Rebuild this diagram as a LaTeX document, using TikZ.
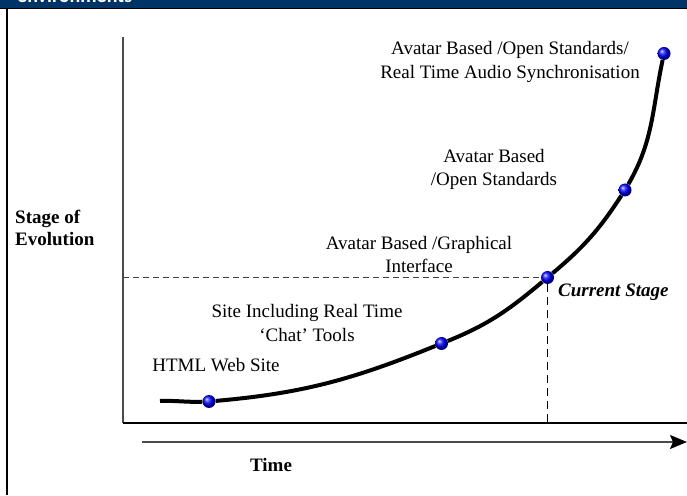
\documentclass[tikz,border=0pt]{standalone}
\usepackage{fontspec}
\setmainfont{Liberation Serif}
\newfontfamily\headfont{Carlito}
\usetikzlibrary{arrows.meta,positioning}
\definecolor{headblue}{RGB}{0,51,102}

\begin{document}
\begin{tikzpicture}[x=1pt, y=1pt,
  lbl/.style={align=center, font=\fontsize{19}{23.5}\selectfont},
  axlbl/.style={align=left, font=\fontsize{19}{22}\selectfont\bfseries},
  stage/.style={circle, inner sep=0pt, minimum size=13pt, shading=ball, ball color=blue},
  guide/.style={line width=1.2pt, dash pattern=on 6pt off 4pt}]
	\useasboundingbox (0,0) rectangle (687,495);
	% title bar, cut off at the top
	\fill[headblue] (0,487) rectangle (687,495);
	\begin{scope}
		\clip (0,487) rectangle (687,495);
		\node[anchor=base west, inner sep=0pt, text=white, font=\headfont\bfseries\fontsize{20}{24}\selectfont] (title) at (17,492.8) {environments};
	\end{scope}
	\draw[line width=1.6pt] (0,486.3) -- (687,486.3);
	\draw[line width=2pt] (6.5,0) -- (6.5,486);
	% axes
	\coordinate (o) at (123,72);
	\coordinate (ytop) at (123,458);
	\coordinate (xend) at (687,72);
	\coordinate (tstart) at (142,53);
	\coordinate (tend) at (687,53);
	\draw[gray!60!black, line width=1.2pt] (ytop) -- (o);
	\draw[line width=1.3pt] (o) -- (xend);
	\draw[gray!60!black, line width=1.3pt, -{Stealth[black, length=17pt, width=14pt, inset=3pt]}] (tstart) -- (tend);
	% stages
	\coordinate (s0) at (160,94);
	\node[stage] (s1) at (209,93.5) {};
	\node[stage] (s2) at (441.5,151.5) {};
	\node[stage] (s3) at (547.5,217.5) {};
	\node[stage] (s4) at (625,305) {};
	\node[stage] (s5) at (664,441.5) {};
	\draw[line width=4pt] (s0) to[out=2, in=182] (s1)
		to[out=5, in=202] (s2)
		to[out=22, in=220] (s3)
		to[out=40, in=237] (s4)
		to[out=60, in=258] (s5);
	\draw[guide, gray!50!black] (o |- s3) -- (s3);
	\draw[guide, line width=1.5pt, dash pattern=on 8pt off 5pt] (s3) -- (s3 |- o);
	% labels
	\node[lbl, anchor=base] (web) at (216,123) {HTML Web Site};
	\node[lbl] (chat) at (307,172) {Site Including Real Time\\`Chat' Tools};
	\node[lbl] (graph) at (419,240.5) {Avatar Based /Graphical\\Interface};
	\node[lbl] (open) at (494,325.5) {Avatar Based\\/Open Standards};
	\node[lbl] (audio) at (510,433) {Avatar Based /Open Standards/\\Real Time Audio Synchronisation};
	\node[anchor=base west, inner sep=0pt, font=\fontsize{19}{22}\selectfont\bfseries\itshape] (now) at (558,198) {Current Stage};
	\node[axlbl, anchor=west, inner sep=0pt] (ylab) at (15,267) {Stage of\\Evolution};
	\node[axlbl, anchor=base] (xlab) at (271,24) {Time};
\end{tikzpicture}
\end{document}
